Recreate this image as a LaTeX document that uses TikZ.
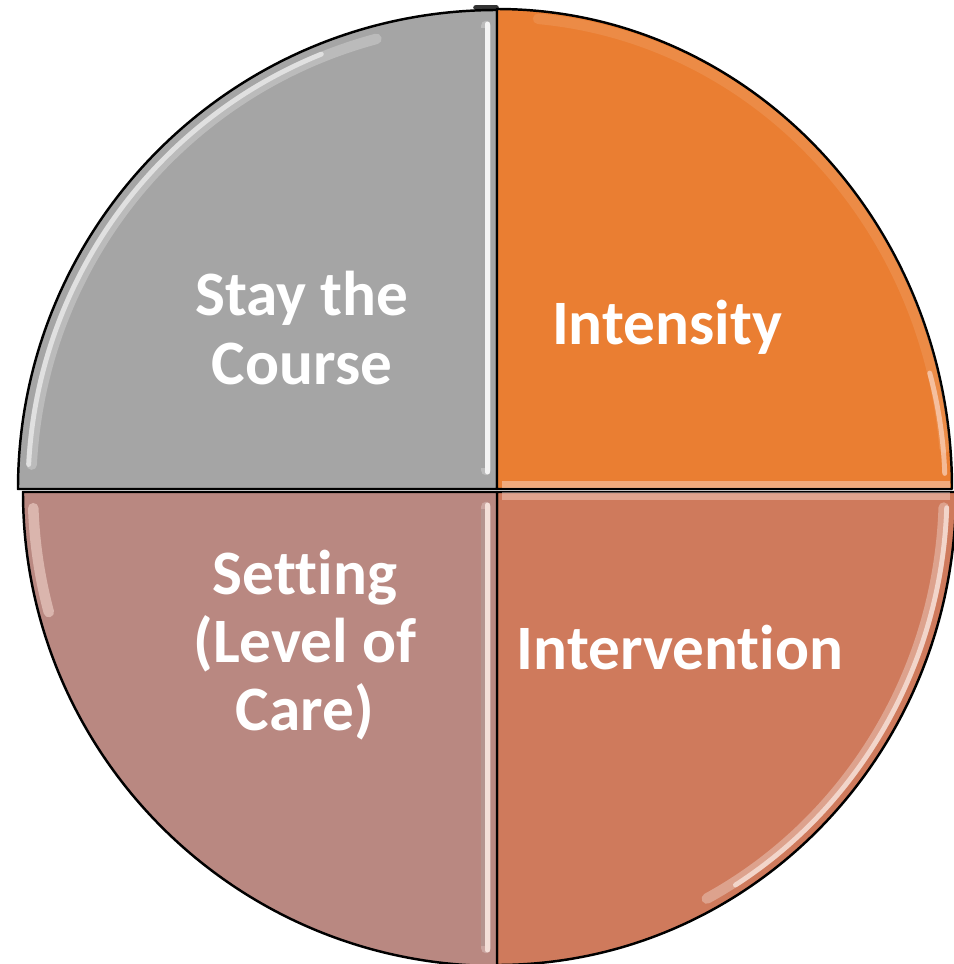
\documentclass[tikz,border=0pt]{standalone}
\usepackage{fontspec}
\setmainfont{Carlito}[Ligatures={NoCommon}]
\definecolor{qgray}{HTML}{A5A5A5}
\definecolor{qorange}{HTML}{EA7E32}
\definecolor{qbr}{HTML}{CF7A5C}
\definecolor{qbl}{HTML}{B98881}
\definecolor{qpink}{HTML}{FBE3DA}
\tikzset{
  sector/.style={draw=black, line width=0.7pt, line join=round},
  glow/.style={line width=1.4pt, line cap=round, draw opacity=0.7},
  softglow/.style={line width=3pt, line cap=round, draw opacity=0.25},
  label/.style={text=white, font=\fontsize{18}{19.4}\selectfont\bfseries, align=center, inner sep=0pt}
}
\begin{document}
\begin{tikzpicture}
\useasboundingbox (0,0) rectangle (9.54,-9.64);
\fill[white] (0,0) rectangle (9.54,-9.64);
% top tab
\draw[line width=1.6pt, black!80, line cap=round] (4.76,-0.075) -- (4.96,-0.075);
% top-left (gray)
\filldraw[sector, fill=qgray] (4.97,-4.89) -- (0.18,-4.89) arc[start angle=180, end angle=90, radius=4.79] -- cycle;
% top-right (orange)
\filldraw[sector, fill=qorange] (4.97,-4.89) -- (4.97,-0.09) arc[start angle=90, end angle=0, x radius=4.55, y radius=4.80] -- cycle;
% bottom-right
\filldraw[sector, fill=qbr] (4.97,-4.92) -- (9.56,-4.92) arc[start angle=0, end angle=-90, x radius=4.59, y radius=4.73] -- cycle;
% bottom-left
\filldraw[sector, fill=qbl] (4.97,-4.92) -- (4.97,-9.66) arc[start angle=-90, end angle=-180, radius=4.74] -- cycle;

% highlights top-left
\draw[glow, white, draw opacity=0.55] ([shift={(112:4.69)}]4.97,-4.89) arc[start angle=112, end angle=177, radius=4.69];
\draw[softglow, white] ([shift={(105:4.66)}]4.97,-4.89) arc[start angle=105, end angle=177, radius=4.66];
\draw[glow, white, draw opacity=0.85] (4.875,-0.24) -- (4.875,-4.72);
\draw[softglow, white] (4.86,-0.26) -- (4.86,-4.70);
\draw[line width=1pt, black, draw opacity=0.12] (4.83,-0.28) -- (4.83,-4.68);
% highlights bottom-left
\draw[glow, qpink, draw opacity=0.85] (4.875,-5.05) -- (4.875,-9.50);
\draw[softglow, white] (4.86,-5.07) -- (4.86,-9.48);
\draw[line width=1pt, black, draw opacity=0.1] (4.83,-5.09) -- (4.83,-9.46);
\draw[softglow, qpink, draw opacity=0.5] ([shift={(-178:4.64)}]4.97,-4.92) arc[start angle=-178, end angle=-165, radius=4.64];
% highlights top-right
\draw[softglow, white, draw opacity=0.1] ([shift={(85:4.72)}]4.97,-4.89) arc[start angle=85, end angle=5, x radius=4.47, y radius=4.72];
\draw[glow, qpink, draw opacity=0.6] ([shift={(15:4.48)}]4.97,-4.89) arc[start angle=15, end angle=2, radius=4.48];
\draw[line width=2pt, qpink, draw opacity=0.45] (5.02,-4.845) -- (9.50,-4.845);
% highlights bottom-right
\draw[glow, qpink] ([shift={(-2:4.50)}]4.97,-4.92) arc[start angle=-2, end angle=-58, x radius=4.50, y radius=4.64];
\draw[softglow, white, draw opacity=0.3] ([shift={(-2:4.47)}]4.97,-4.92) arc[start angle=-2, end angle=-62, x radius=4.47, y radius=4.61];
\draw[line width=2pt, qpink, draw opacity=0.4] (5.02,-4.96) -- (9.50,-4.96);

% labels
\node[label] (stay) at (3.02,-3.28) {Stay the\\Course};
\node[label] (intensity) at (6.67,-3.27) {Intensity};
\node[label] (setting) at (3.05,-6.45) {Set\kern0pt t\kern0pt ing\\(Level of\\Care)};
\node[label] (intervention) at (6.80,-6.48) {Intervention};
\end{tikzpicture}
\end{document}
